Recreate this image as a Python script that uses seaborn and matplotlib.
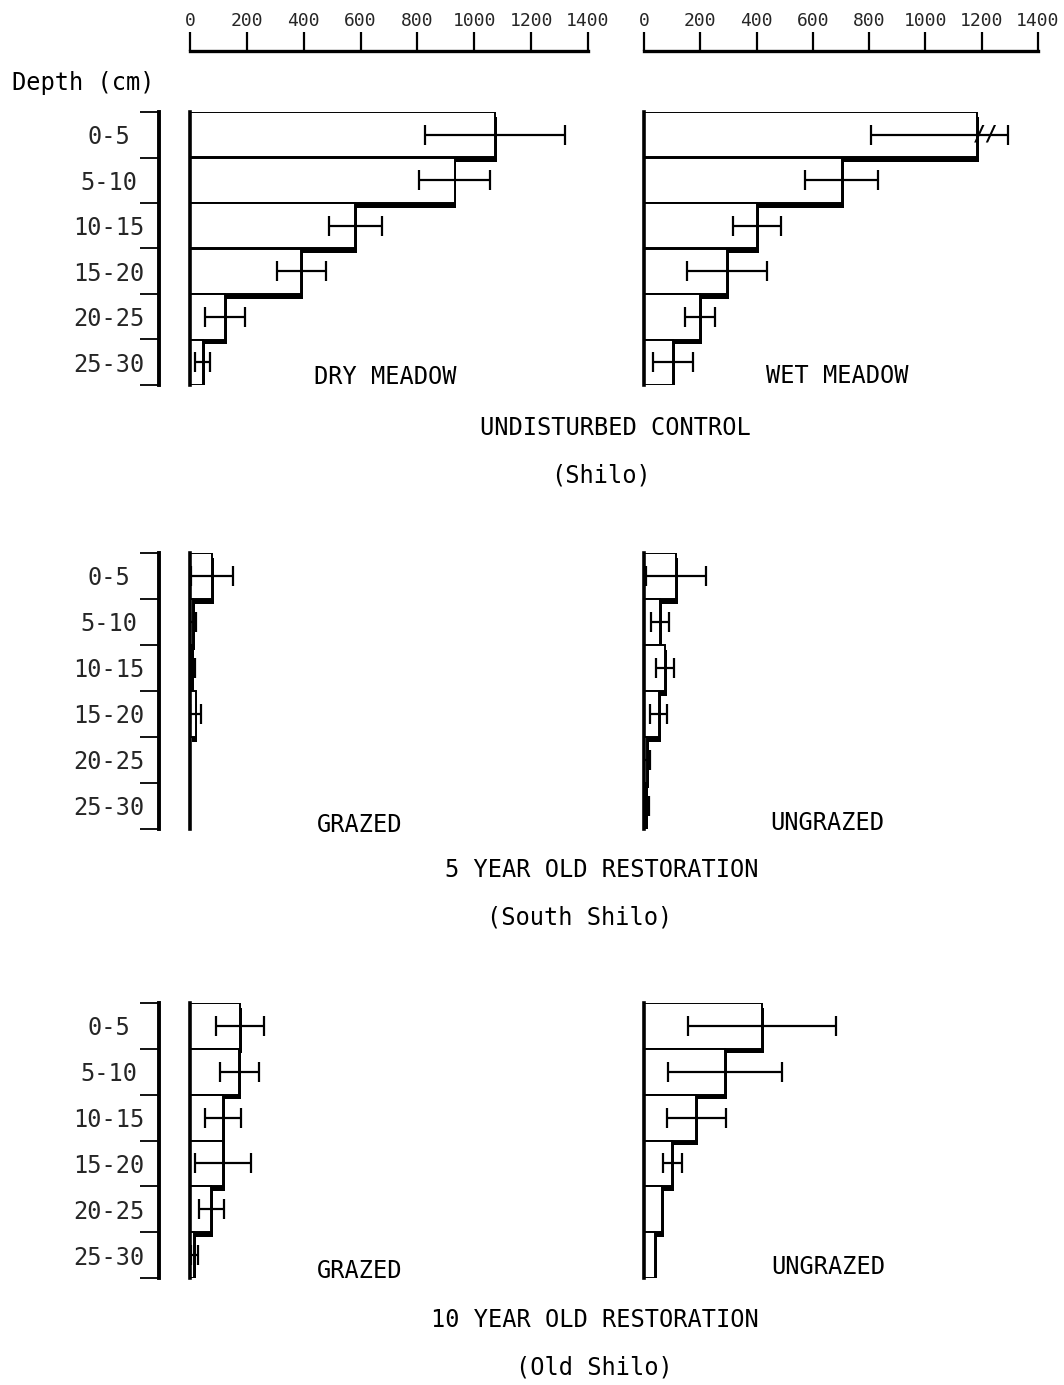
import numpy as np
import pandas as pd
import seaborn as sns
import matplotlib
matplotlib.use('Agg')
import matplotlib.pyplot as plt
import matplotlib.patheffects as pe

# Root biomass by depth
depths = ['0-5', '5-10', '10-15', '15-20', '20-25', '25-30']
scale_ticks = [0, 200, 400, 600, 800, 1000, 1200, 1400]

# undisturbed control (Shilo)
dry_mean = [1073, 931, 582, 392, 124, 45]
dry_err = [247, 124, 92, 86, 71, 26]
wet_mean = [1183, 703, 402, 294, 199, 103]
wet_err = [376, 130, 84, 142, 55, 71]
wet_cap = 1293      # upper whisker of 0-5 is broken here
wet_break = 1215

# 5 year old restoration (South Shilo)
g5_mean = [77, 10, 8, 20, 0, 0]
g5_err = [74, 10, 8, 20, 0, 0]
u5_mean = [114, 57, 75, 53, 10, 8]
u5_err = [106, 33, 32, 30, 10, 8]

# 10 year old restoration (Old Shilo)
g10_mean = [176, 173, 116, 116, 74, 15]
g10_err = [85, 69, 64, 100, 44, 12]
u10_mean = [419, 288, 185, 100, 64, 39]
u10_err = [262, 203, 105, 34, 0, 0]

W, H = 1064, 1385
sns.set_theme(style='white')
plt.rcParams['font.family'] = ['DejaVu Sans Mono', 'DejaVu Sans']

fig = plt.figure(figsize=(W / 100, H / 100), dpi=100)


def box(x0, y0, x1, y1):
    return [x0 / W, 1 - y1 / H, (x1 - x0) / W, (y1 - y0) / H]


def ftext(x, y, s, size=17, ha='center'):
    fig.text(x / W, 1 - y / H, s, ha=ha, va='center', fontsize=size, color='black')


def panel(x0, x1, y0, y1, mean, err, cap=None):
    ax = fig.add_axes(box(x0, y0, x1, y1))
    df = pd.DataFrame({'depth': depths, 'mass': mean})
    sns.barplot(data=df, y='depth', x='mass', orient='h', color='white',
                edgecolor='black', linewidth=1.4, width=1.0, saturation=1, ax=ax)
    for p in ax.patches:
        if p.get_width() > 0:
            p.set_path_effects([pe.SimplePatchShadow(offset=(1.3, -3.3), shadow_rgbFace='black', alpha=1),
                                pe.Normal()])
        else:
            p.set_visible(False)
    m = np.array(mean, float)
    e = np.array(err, float)
    hi = m + e
    if cap is not None:
        hi = np.minimum(hi, cap)
    keep = e > 0
    pos = np.arange(len(depths))
    ax.errorbar(m[keep], pos[keep], xerr=[e[keep], (hi - m)[keep]], fmt='none',
                ecolor='black', elinewidth=1.6, capsize=7.5, capthick=1.6, zorder=5)
    ax.set_xlim(0, 1400)
    ax.set_ylim(5.5, -0.5)
    for s in ['top', 'right', 'bottom']:
        ax.spines[s].set_visible(False)
    ax.spines['left'].set_linewidth(2.6)
    ax.spines['left'].set_color('black')
    ax.set_xticks([])
    ax.set_yticks([])
    ax.set_xlabel('')
    ax.set_ylabel('')
    ax.patch.set_alpha(0)
    return ax


def depth_axis(y0, y1):
    dax = fig.add_axes(box(159, y0, 161, y1))
    dax.set_ylim(5.5, -0.5)
    dax.set_xlim(0, 1)
    for s in ['top', 'right', 'bottom']:
        dax.spines[s].set_visible(False)
    dax.spines['left'].set_linewidth(2.8)
    dax.spines['left'].set_color('black')
    dax.set_xticks([])
    dax.set_yticks(range(len(depths)))
    dax.set_yticklabels(depths, fontsize=17, ha='center')
    dax.set_yticks(np.arange(-0.5, len(depths)), minor=True)
    dax.tick_params(axis='y', which='both', left=True)
    dax.tick_params(axis='y', which='major', length=0, pad=36)
    dax.tick_params(axis='y', which='minor', length=14, width=1.3, color='black', direction='out')
    dax.patch.set_alpha(0)


def scale_axis(x0, x1):
    sax = fig.add_axes(box(x0, 51, x1, 52))
    sax.set_xlim(0, 1400)
    for s in ['left', 'right', 'bottom']:
        sax.spines[s].set_visible(False)
    sax.spines['top'].set_linewidth(2.4)
    sax.spines['top'].set_color('black')
    sax.set_yticks([])
    sax.set_xticks(scale_ticks)
    sax.set_xticklabels([str(t) for t in scale_ticks], fontsize=13)
    sax.xaxis.tick_top()
    sax.tick_params(axis='x', which='major', top=True, direction='out', length=14, width=1.6,
                    color='black', pad=1)
    sax.patch.set_alpha(0)


LX0, LX1 = 190, 588
RX0, RX1 = 644, 1038
rows = [(112, 385), (553, 829), (1003, 1278)]

scale_axis(LX0, LX1)
scale_axis(RX0, RX1)

panel(LX0, LX1, *rows[0], dry_mean, dry_err)
wax = panel(RX0, RX1, *rows[0], wet_mean, wet_err, cap=wet_cap)
wax.text(wet_break, 0, '//', ha='center', va='center', fontsize=15, fontweight='bold',
         color='black', zorder=6)
panel(LX0, LX1, *rows[1], g5_mean, g5_err)
panel(RX0, RX1, *rows[1], u5_mean, u5_err)
panel(LX0, LX1, *rows[2], g10_mean, g10_err)
panel(RX0, RX1, *rows[2], u10_mean, u10_err)

for r in rows:
    depth_axis(*r)

ftext(12, 83, 'Depth (cm)', ha='left')
ftext(385, 377, 'DRY MEADOW')
ftext(837, 376, 'WET MEADOW')
ftext(615, 428, 'UNDISTURBED CONTROL')
ftext(601, 476, '(Shilo)')
ftext(360, 825, 'GRAZED')
ftext(827, 823, 'UNGRAZED')
ftext(602, 870, '5 YEAR OLD RESTORATION')
ftext(580, 917, '(South Shilo)')
ftext(360, 1271, 'GRAZED')
ftext(828, 1267, 'UNGRAZED')
ftext(595, 1320, '10 YEAR OLD RESTORATION')
ftext(594, 1367, '(Old Shilo)')

fig.savefig('out.png', dpi=100)
